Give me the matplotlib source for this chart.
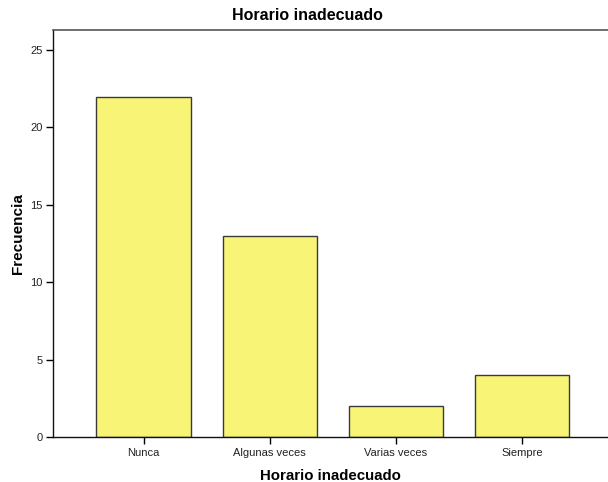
import numpy as np
import matplotlib
matplotlib.use('Agg')
import matplotlib.pyplot as plt

plt.rcParams['font.family'] = ['Liberation Sans', 'DejaVu Sans']

categories = ['Nunca', 'Algunas veces', 'Varias veces', 'Siempre']
frecuencia = [22, 13, 2, 4]
yticks = [0, 5, 10, 15, 20, 25]

fig = plt.figure(figsize=(6.08, 4.82), dpi=100)
ax = fig.add_axes([52.5 / 608, 45 / 482, 1 - 52.5 / 608, 407 / 482])

x = np.arange(len(categories))
ax.bar(x, frecuencia, width=0.748, color='#F8F576', edgecolor='#3a3a3a', linewidth=1.0)

ax.set_xlim(-0.722, 3.68)
ax.set_ylim(0, 26.3)
ax.set_xticks(x)
ax.set_xticklabels(categories, fontsize=8, color='#222222')
ax.set_yticks(yticks)
ax.set_yticklabels([str(v) for v in yticks], fontsize=8, color='#222222')
ax.tick_params(axis='y', direction='out', length=5, width=1, pad=2)
ax.tick_params(axis='x', direction='out', length=5, width=1, pad=3)

for side in ['left', 'bottom']:
    ax.spines[side].set_color('#111111')
    ax.spines[side].set_linewidth(1.0)
ax.spines['top'].set_color('#555555')
ax.spines['top'].set_linewidth(1.2)
ax.spines['right'].set_visible(False)

ax.set_title('Horario inadecuado', fontsize=11.5, fontweight='bold', pad=7,
             x=(307 - 52.5) / (608 - 52.5))
ax.set_xlabel('Horario inadecuado', fontsize=10.8, fontweight='bold', labelpad=8)
ax.set_ylabel('Frecuencia', fontsize=11, fontweight='bold', labelpad=4)

fig.savefig('out.png', dpi=100, facecolor='white')
